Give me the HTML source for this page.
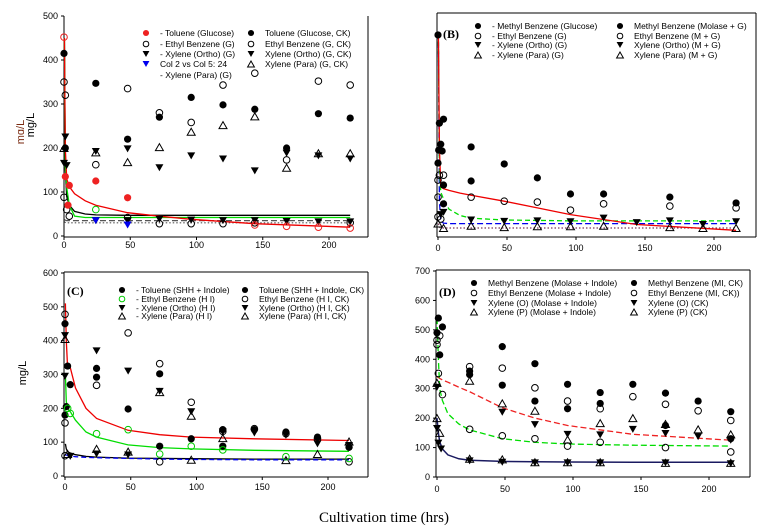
<!DOCTYPE html>
<html><head><meta charset="utf-8">
<style>
body{margin:0;background:#fff;}
svg{display:block;font-family:"Liberation Sans",Arial,sans-serif;}
.tk{font-size:9px;fill:#000;}
.lg{font-size:8.5px;fill:#000;}
</style></head>
<body>
<svg id="chart" width="769" height="527" viewBox="0 0 769 527" xmlns="http://www.w3.org/2000/svg">
<rect width="769" height="527" fill="#fff"/>
<text x="384" y="522" text-anchor="middle" font-family="Liberation Serif,serif" font-size="15">Cultivation time (hrs)</text>
<text transform="translate(24,132) rotate(-90)" text-anchor="middle" font-size="11" fill="#7a2a10">mɑ/L</text>
<text transform="translate(34,125) rotate(-90)" text-anchor="middle" font-size="11">mg/L</text>
<text transform="translate(26,373) rotate(-90)" text-anchor="middle" font-size="11">mg/L</text>
</svg>
<script>
// ---------------- data ----------------
const xTicks = [0, 50, 100, 150, 200];
const yTicksA = [0, 100, 200, 300, 400, 500];
const yTicksC = [0, 100, 200, 300, 400, 500, 600];
const yTicksD = [0, 100, 200, 300, 400, 500, 600, 700];

// Panel A
const aTolGlu = [[1,135],[3,70],[4,115],[24,125],[48,87]];
const aTolGluOpen = [[0,452],[144,25],[168,22],[192,20],[216,18]];
const aTolCK = [[0,415],[1,200],[24,347],[48,220],[72,270],[96,315],[120,298],[144,288],[168,200],[192,278],[216,268]];
const aEthG = [[0,350],[1,320],[0,88],[2,60],[4,45],[48,42],[72,28],[96,28],[120,28],[144,30],[216,30]];
const aEthCK = [[24,162],[48,335],[72,280],[96,258],[120,343],[144,370],[168,173],[192,352],[216,343]];
const aXoG = [[0,165],[2,160],[24,35],[48,35],[72,38],[96,36],[120,35],[144,35],[168,33],[192,32],[216,32]];
const aXoCK = [[1,225],[24,192],[48,198],[72,155],[96,182],[120,175],[144,148],[168,188],[192,182],[216,175]];
const aXpCK = [[0,200],[24,190],[48,168],[72,202],[96,237],[120,252],[144,272],[168,155],[192,188],[216,188]];
const aGreen = [[24,60]];
const aBlue = [[24,35],[48,25]];
const aCurveT = [0.3, 1, 2, 4, 8, 16, 24, 48, 72, 96, 144, 216];
const aCurveRed = [450, 200, 130, 112, 96, 80, 70, 53, 45, 38, 28, 20];
const aCurveBlack = [450, 150, 90, 70, 56, 50, 48, 47, 47, 47, 47, 47];
const aCurveGreen = [450, 160, 110, 70, 45, 42, 42, 42, 42, 42, 42, 42];
const aCurveDash = [38, 36, 35, 35, 35, 35, 35, 35, 35, 35, 35, 35];
const aCurveDot = [32, 31, 30, 30, 30, 30, 30, 30, 30, 30, 30, 30];

// Panel B
const bMeth = [[0,451],[1,254],[0.5,194],[0,165],[2,207],[3,192],[4,263],[4,116],[24,201],[24,125],[48,163],[72,132],[96,96],[120,96],[168,89],[216,76],[4,74]];
const bEth = [[24,89],[48,80],[72,78],[96,60],[120,74],[168,69],[216,65],[0,127],[1,138],[4,138],[0,89],[0,45],[2,40]];
const bXo = [[2,50],[4,55],[24,38],[48,35],[72,36],[96,34],[120,42],[144,32],[168,36],[192,28],[216,34]];
const bXp = [[0,30],[4,20],[24,25],[48,22],[72,24],[96,24],[120,25],[168,22],[192,20],[216,20]];
const bCurveT = [0.3, 1, 2, 4, 8, 16, 24, 48, 72, 96, 144, 216];
const bCurveRed = [455, 200, 112, 108, 104, 98, 93, 80, 65, 50, 28, 15];
const bCurveGreen = [455, 150, 100, 85, 62, 48, 42, 38, 37, 36, 36, 36];
const bCurveBlue = [455, 80, 35, 31, 30, 30, 30, 30, 30, 30, 30, 30];
const bCurveDot = [30, 22, 20, 20, 20, 20, 20, 20, 20, 20, 20, 20];

// Panel C
const cTol = [[0,450],[1,205],[2,325],[4,270],[24,318],[48,198],[72,88],[96,110],[120,88],[216,85],[0,180]];
const cTolCK = [[24,292],[72,302],[120,137],[144,137],[168,130],[192,115],[216,85]];
const cEthHI = [[2,200],[4,185],[24,125],[48,137],[72,65],[96,88],[120,77],[168,57],[216,52]];
const cEthCK = [[0,478],[0,157],[24,268],[48,423],[72,332],[96,218],[120,132],[144,140],[168,125],[192,110],[72,42],[216,42],[0,60]];
const cXo = [[0,415],[0,295],[24,370],[48,310],[72,250],[96,190],[120,130],[144,127],[168,120],[192,95],[216,90],[4,58],[24,65],[48,62]];
const cXp = [[0,405],[24,80],[48,72],[72,248],[96,178],[120,112],[168,47],[192,65],[216,102],[96,48],[2,65]];
const cCurveT = [0.3, 1, 2, 3, 4, 8, 16, 24, 48, 72, 96, 144, 216];
const cCurveRed = [510, 400, 320, 330, 320, 260, 200, 170, 135, 122, 115, 110, 105];
const cCurveGreen = [300, 220, 200, 195, 190, 165, 130, 115, 92, 84, 80, 76, 73];
const cCurveBlack = [95, 80, 72, 70, 68, 63, 58, 56, 53, 52, 51, 50, 50];
const cCurveBlue = [62, 62, 61, 60, 59, 57, 55, 54, 52, 50, 49, 48, 48];

// Panel D
const dMeth = [[0,490],[1,540],[2,415],[4,510],[24,360],[24,348],[48,443],[48,312],[72,385],[72,258],[96,315],[96,232],[120,287],[120,250],[144,315],[168,285],[168,175],[192,258],[216,222],[216,130]];
const dEth = [[0,450],[0,465],[1,352],[2,480],[4,280],[24,375],[24,162],[48,370],[48,140],[72,303],[72,130],[96,258],[96,105],[120,232],[120,118],[144,273],[168,247],[168,100],[192,225],[216,192],[216,85]];
const dXo = [[0,165],[0,305],[1,115],[3,95],[24,55],[48,220],[48,50],[72,178],[72,48],[96,145],[96,48],[120,143],[120,48],[144,162],[168,148],[168,48],[192,137],[216,125],[216,45]];
const dXp = [[0,200],[0,320],[2,150],[24,327],[24,62],[48,250],[48,60],[72,225],[72,50],[96,127],[96,50],[120,183],[120,50],[144,200],[168,180],[168,48],[192,162],[216,145],[216,48]];
const dCurveT = [0, 1, 2, 4, 8, 16, 24, 48, 72, 96, 144, 216];
const dCurveRed = [340, 338, 335, 330, 322, 305, 290, 235, 200, 175, 145, 125];
const dCurveGreen = [540, 400, 300, 260, 215, 180, 160, 130, 118, 112, 108, 105];
const dCurveBlack = [200, 150, 120, 95, 75, 62, 57, 53, 52, 51, 50, 50];

// ---------------- drawing ----------------
const svg = document.getElementById('chart');
const NS = 'http://www.w3.org/2000/svg';
function mk(tag, at) { const e = document.createElementNS(NS, tag); for (const k in at) e.setAttribute(k, at[k]); svg.appendChild(e); return e; }

function makePanel(g) {
  return {
    g: g,
    x: t => g.x0 + t * (g.x200 - g.x0) / 200,
    y: v => g.y0 - v * (g.y0 - g.yTop) / g.yMax
  };
}
const PA = makePanel({x0:64, x200:329, y0:236, yTop:16, yMax:500, L:64, R:368, T:16, B:237, top:false});
const PB = makePanel({x0:438, x200:714, y0:237, yTop:13, yMax:500, L:437, R:756, T:13, B:237, top:true});
const PC = makePanel({x0:65, x200:328, y0:476, yTop:273, yMax:600, L:64, R:368, T:272, B:477, top:true});
const PD = makePanel({x0:437, x200:709, y0:477, yTop:271, yMax:700, L:436, R:750, T:270, B:477, top:true});

function frame(P, name, yTicks, xlabY) {
  const g = P.g;
  let l;
  l = mk('line', {x1:g.L, y1:g.B, x2:g.R, y2:g.B, stroke:'#000', 'stroke-width':1});
  
  
  l = mk('line', {x1:g.L, y1:g.T, x2:g.L, y2:g.B, stroke:'#000', 'stroke-width':1});
  
  
  l = mk('line', {x1:g.R, y1:g.T, x2:g.R, y2:g.B, stroke:'#000', 'stroke-width':1});
  
  
  if (g.top) {
    l = mk('line', {x1:g.L, y1:g.T, x2:g.R, y2:g.T, stroke:'#000', 'stroke-width':1});
    
    
  }
  xTicks.forEach(t => {
    const px = P.x(t);
    mk('line', {x1:px, y1:g.B, x2:px, y2:g.B + 3, stroke:'#000'});
    const tx = mk('text', {x:px, y:xlabY, 'text-anchor':'middle', class:'tk'});
    tx.textContent = t;
    
    
  });
  yTicks.forEach(v => {
    const py = P.y(v);
    mk('line', {x1:g.L - 3, y1:py, x2:g.L, y2:py, stroke:'#000'});
    const tx = mk('text', {x:g.L - 6, y:py + 3, 'text-anchor':'end', class:'tk'});
    tx.textContent = v;
    
    
  });
}

function marker(kind, cx, cy, color, s) {
  let e;
  const c = color || '#000';
  const k = s || 1;
  if (kind === 'fc') e = mk('circle', {cx:cx, cy:cy, r:3.6 * k, fill:c});
  else if (kind === 'oc') e = mk('circle', {cx:cx, cy:cy, r:3.3 * k, fill:'none', stroke:c, 'stroke-width':1});
  else if (kind === 'dt') e = mk('polygon', {points:`${cx-4*k},${cy-3.5*k} ${cx+4*k},${cy-3.5*k} ${cx},${cy+3.5*k}`, fill:c});
  else if (kind === 'ut') e = mk('polygon', {points:`${cx-4*k},${cy+3.5*k} ${cx+4*k},${cy+3.5*k} ${cx},${cy-3.5*k}`, fill:'none', stroke:c, 'stroke-width':1});
  else e = mk('circle', {cx:cx, cy:cy, r:0, fill:'none'});
  return e;
}

function series(P, pts, kind, color, name) {
  pts.forEach(p => {
    const e = marker(kind, P.x(p[0]), P.y(p[1]), color);
    
    
  });
}

function curve(P, ts, vs, color, dash, name, w) {
  const d = ts.map((t, i) => (i ? 'L' : 'M') + P.x(t).toFixed(1) + ',' + P.y(vs[i]).toFixed(1)).join(' ');
  const e = mk('path', {d:d, fill:'none', stroke:color, 'stroke-width':w || 1.3, 'stroke-dasharray':dash || 'none'});
  
  
}

function legendItem(x, y, kind, color, label, name) {
  const m = marker(kind, x, y, color, 0.85);
  
  
  const t = mk('text', {x:x + 14, y:y + 3, class:'lg'});
  t.textContent = label;
  
  
}

function panelLabel(x, y, s, name) {
  const t = mk('text', {x:x, y:y, 'font-family':'Liberation Serif,serif', 'font-weight':'bold', 'font-size':12});
  t.textContent = s;
  
  
}

// Panel A
frame(PA, 'panel-a', yTicksA, 248);
curve(PA, aCurveT, aCurveDash, '#555', '6,3', 'panel-a-curve-dashed', 1.2);
curve(PA, aCurveT, aCurveDot, '#555', '1.5,2', 'panel-a-curve-dotted', 1.2);
curve(PA, aCurveT, aCurveBlack, '#000', null, 'panel-a-curve-black');
curve(PA, aCurveT, aCurveGreen, '#00dd00', null, 'panel-a-curve-green');
curve(PA, aCurveT, aCurveRed, '#ee0000', null, 'panel-a-curve-red');
series(PA, aTolCK, 'fc', '#000', 'panel-a-toluene-ck-point');
series(PA, aEthCK, 'oc', '#000', 'panel-a-ethyl-ck-point');
series(PA, aXoCK, 'dt', '#000', 'panel-a-xylene-ortho-ck-point');
series(PA, aXpCK, 'ut', '#000', 'panel-a-xylene-para-ck-point');
series(PA, aEthG, 'oc', '#000', 'panel-a-ethyl-g-point');
series(PA, aXoG, 'dt', '#000', 'panel-a-xylene-ortho-g-point');
series(PA, aTolGlu, 'fc', '#ee2222', 'panel-a-toluene-glucose-point');
series(PA, aTolGluOpen, 'oc', '#ee2222', 'panel-a-toluene-glucose-open-point');
series(PA, aGreen, 'oc', '#00cc00', 'panel-a-green-point');
series(PA, aBlue, 'dt', '#0000ee', 'panel-a-blue-point');
legendItem(146, 33, 'fc', '#ee2222', '- Toluene (Glucose)', 'panel-a-legend-toluene-glucose');
legendItem(146, 44, 'oc', '#000', '- Ethyl Benzene (G)', 'panel-a-legend-ethyl-g');
legendItem(146, 54, 'dt', '#000', '- Xylene (Ortho) (G)', 'panel-a-legend-xylene-ortho-g');
legendItem(146, 64, 'dt', '#0000ee', 'Col 2 vs Col 5: 24', 'panel-a-legend-col2');
legendItem(146, 75, 'none', '#fff', '- Xylene (Para) (G)', 'panel-a-legend-xylene-para-g');
legendItem(251, 33, 'fc', '#000', 'Toluene (Glucose, CK)', 'panel-a-legend-toluene-ck');
legendItem(251, 44, 'oc', '#000', 'Ethyl Benzene (G, CK)', 'panel-a-legend-ethyl-ck');
legendItem(251, 54, 'dt', '#000', 'Xylene (Ortho) (G, CK)', 'panel-a-legend-xylene-ortho-ck');
legendItem(251, 64, 'ut', '#000', 'Xylene (Para) (G, CK)', 'panel-a-legend-xylene-para-ck');

// Panel B
frame(PB, 'panel-b', [], 251);
curve(PB, bCurveT, bCurveDot, '#7a3a5a', '1.5,2', 'panel-b-curve-dotted', 1.2);
curve(PB, bCurveT, bCurveBlue, '#0000ee', '6,3', 'panel-b-curve-blue');
curve(PB, bCurveT, bCurveGreen, '#00dd00', '5,3', 'panel-b-curve-green');
curve(PB, bCurveT, bCurveRed, '#ee0000', null, 'panel-b-curve-red');
series(PB, bMeth, 'fc', '#000', 'panel-b-methyl-point');
series(PB, bEth, 'oc', '#000', 'panel-b-ethyl-point');
series(PB, bXo, 'dt', '#000', 'panel-b-xylene-ortho-point');
series(PB, bXp, 'ut', '#000', 'panel-b-xylene-para-point');
panelLabel(443, 38, '(B)', 'panel-b-label');
legendItem(478, 26, 'fc', '#000', '- Methyl Benzene (Glucose)', 'panel-b-legend-methyl-g');
legendItem(478, 36, 'oc', '#000', '- Ethyl Benzene (G)', 'panel-b-legend-ethyl-g');
legendItem(478, 45, 'dt', '#000', '- Xylene (Ortho) (G)', 'panel-b-legend-xylene-ortho-g');
legendItem(478, 55, 'ut', '#000', '- Xylene (Para) (G)', 'panel-b-legend-xylene-para-g');
legendItem(620, 26, 'fc', '#000', 'Methyl Benzene (Molase + G)', 'panel-b-legend-methyl-mg');
legendItem(620, 36, 'oc', '#000', 'Ethyl Benzene (M + G)', 'panel-b-legend-ethyl-mg');
legendItem(620, 45, 'dt', '#000', 'Xylene (Ortho) (M + G)', 'panel-b-legend-xylene-ortho-mg');
legendItem(620, 55, 'ut', '#000', 'Xylene (Para) (M + G)', 'panel-b-legend-xylene-para-mg');

// Panel C
frame(PC, 'panel-c', yTicksC, 490);
curve(PC, cCurveT, cCurveBlack, '#000', null, 'panel-c-curve-black');
curve(PC, cCurveT, cCurveBlue, '#0000ee', '5,3', 'panel-c-curve-blue');
curve(PC, cCurveT, cCurveGreen, '#00dd00', null, 'panel-c-curve-green');
curve(PC, cCurveT, cCurveRed, '#ee0000', null, 'panel-c-curve-red');
series(PC, cTol, 'fc', '#000', 'panel-c-toluene-point');
series(PC, cTolCK, 'fc', '#000', 'panel-c-toluene-ck-point');
series(PC, cEthCK, 'oc', '#000', 'panel-c-ethyl-ck-point');
series(PC, cXo, 'dt', '#000', 'panel-c-xylene-ortho-point');
series(PC, cXp, 'ut', '#000', 'panel-c-xylene-para-point');
series(PC, cEthHI, 'oc', '#00cc00', 'panel-c-ethyl-hi-point');
panelLabel(67, 295, '(C)', 'panel-c-label');
legendItem(122, 290, 'fc', '#000', '- Toluene (SHH + Indole)', 'panel-c-legend-toluene');
legendItem(122, 299, 'oc', '#00cc00', '- Ethyl Benzene (H I)', 'panel-c-legend-ethyl');
legendItem(122, 308, 'dt', '#000', '- Xylene (Ortho) (H I)', 'panel-c-legend-xylene-ortho');
legendItem(122, 316, 'ut', '#000', '- Xylene (Para) (H I)', 'panel-c-legend-xylene-para');
legendItem(245, 290, 'fc', '#000', 'Toluene (SHH + Indole, CK)', 'panel-c-legend-toluene-ck');
legendItem(245, 299, 'oc', '#000', 'Ethyl Benzene (H I, CK)', 'panel-c-legend-ethyl-ck');
legendItem(245, 308, 'dt', '#000', 'Xylene (Ortho) (H I, CK)', 'panel-c-legend-xylene-ortho-ck');
legendItem(245, 316, 'ut', '#000', 'Xylene (Para) (H I, CK)', 'panel-c-legend-xylene-para-ck');

// Panel D
frame(PD, 'panel-d', yTicksD, 492);
curve(PD, dCurveT, dCurveRed, '#ee2222', '6,3', 'panel-d-curve-red');
curve(PD, dCurveT, dCurveGreen, '#00dd00', '6,3', 'panel-d-curve-green');
curve(PD, dCurveT, dCurveBlack, '#1a1a60', null, 'panel-d-curve-black', 1.5);
series(PD, dMeth, 'fc', '#000', 'panel-d-methyl-point');
series(PD, dEth, 'oc', '#000', 'panel-d-ethyl-point');
series(PD, dXo, 'dt', '#000', 'panel-d-xylene-o-point');
series(PD, dXp, 'ut', '#000', 'panel-d-xylene-p-point');
panelLabel(439, 296, '(D)', 'panel-d-label');
legendItem(474, 283, 'fc', '#000', 'Methyl Benzene (Molase + Indole)', 'panel-d-legend-methyl');
legendItem(474, 293, 'oc', '#000', 'Ethyl Benzene (Molase + Indole)', 'panel-d-legend-ethyl');
legendItem(474, 303, 'dt', '#000', 'Xylene (O) (Molase + Indole)', 'panel-d-legend-xylene-o');
legendItem(474, 312, 'ut', '#000', 'Xylene (P) (Molase + Indole)', 'panel-d-legend-xylene-p');
legendItem(634, 283, 'fc', '#000', 'Methyl Benzene (MI, CK)', 'panel-d-legend-methyl-ck');
legendItem(634, 293, 'oc', '#000', 'Ethyl Benzene (MI, CK))', 'panel-d-legend-ethyl-ck');
legendItem(634, 303, 'dt', '#000', 'Xylene (O) (CK)', 'panel-d-legend-xylene-o-ck');
legendItem(634, 312, 'ut', '#000', 'Xylene (P) (CK)', 'panel-d-legend-xylene-p-ck');
</script>
</body></html>
